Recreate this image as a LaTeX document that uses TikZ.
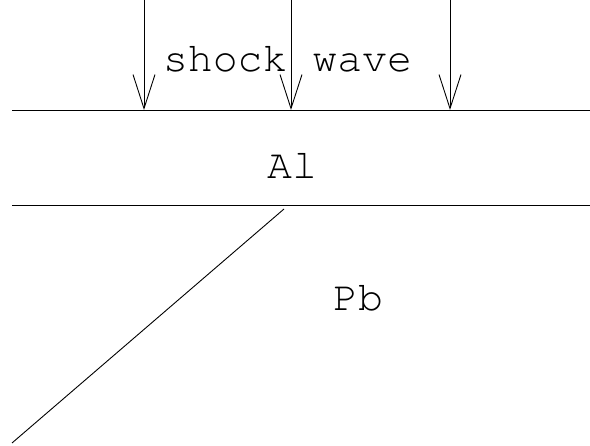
\documentclass[tikz,border=0pt]{standalone}
\usepackage[T1]{fontenc}
\usetikzlibrary{arrows.meta}
\begin{document}
\begin{tikzpicture}[x=1pt,y=-1pt,
  thin line/.style={line width=0.9pt},
  shockarrow/.style={thin line,-{Straight Barb[length=34pt,width=22pt,line width=0.9pt]}},
  lbl/.style={font=\fontfamily{pcr}\fontsize{41.5}{41.5}\selectfont, inner sep=0pt}]
\useasboundingbox (0,0) rectangle (590,446);
\coordinate (t1L) at (12,110);
\coordinate (t1R) at (590,110);
\coordinate (t2L) at (12,205);
\coordinate (t2R) at (590,205);
\coordinate (a1s) at (144,0);
\coordinate (a1e) at (144,110);
\coordinate (a2s) at (291,0);
\coordinate (a2e) at (291,110);
\coordinate (a3s) at (450,0);
\coordinate (a3e) at (450,110);
\coordinate (dTop) at (284,209);
\coordinate (dBot) at (12,443);
\draw[thin line] (t1L) -- (t1R);
\draw[thin line] (t2L) -- (t2R);
\draw[shockarrow] (a1s) -- (a1e);
\draw[shockarrow] (a2s) -- (a2e);
\draw[shockarrow] (a3s) -- (a3e);
\draw[thin line] (dTop) -- (dBot);
\node[lbl] (sw) at (287.5,59) {shock wave};
\node[lbl] (al) at (292,165) {Al};
\node[lbl] (pb) at (358,298) {Pb};
\end{tikzpicture}
\end{document}
